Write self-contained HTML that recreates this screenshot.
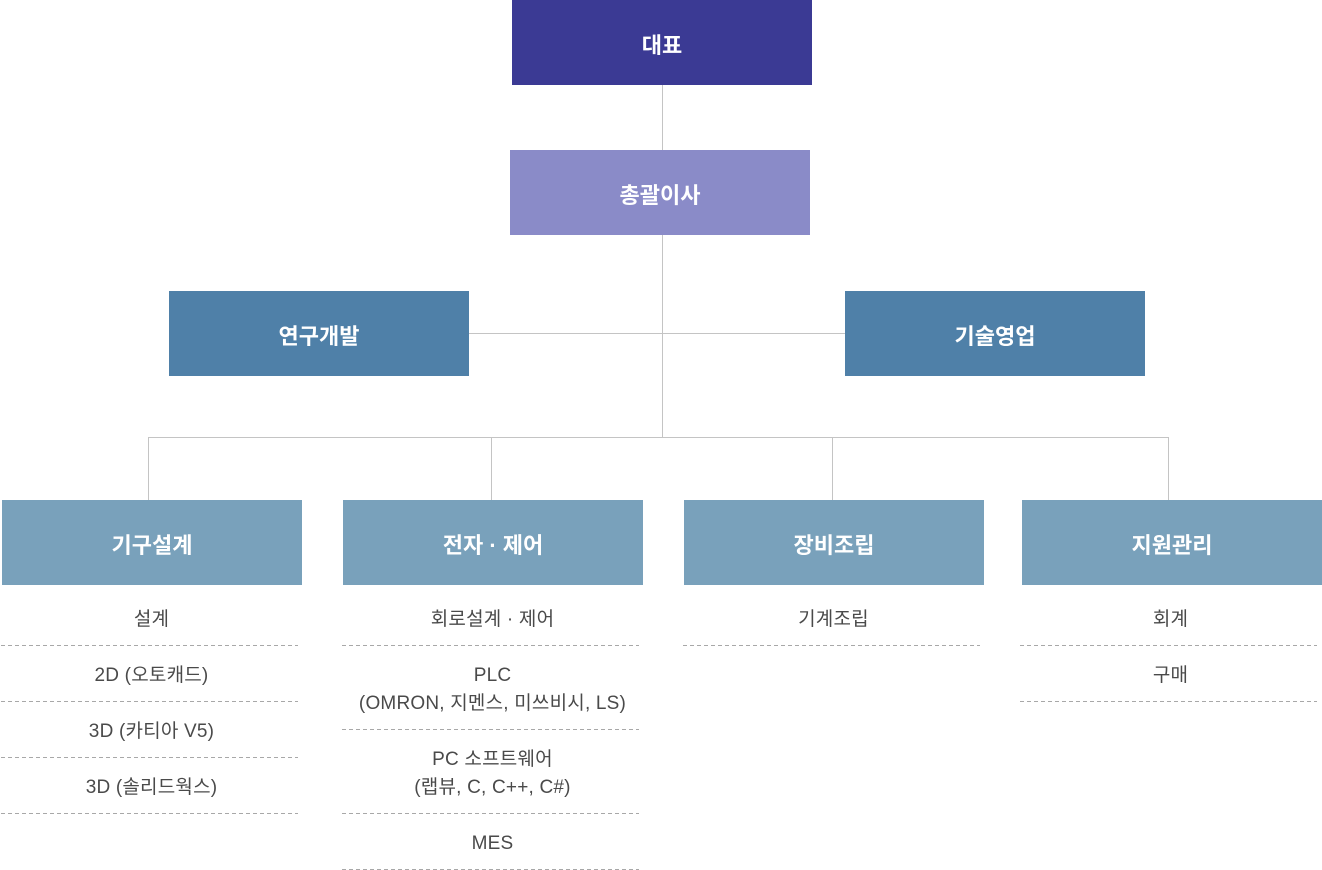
<!DOCTYPE html>
<html>
<head>
<meta charset="utf-8">
<style>
  html, body { margin:0; padding:0; background:#fff; }
  body { width:1322px; height:870px; position:relative; overflow:hidden;
         font-family:"Liberation Sans","Noto Sans CJK KR",sans-serif; }
  .box { position:absolute; width:300px; height:85px; color:#fff;
         display:flex; align-items:center; justify-content:center;
         font-size:22px; font-weight:700; letter-spacing:0; padding-top:2px; box-sizing:border-box; }
  .l { position:absolute; background:#c4c4c4; }
  .col { position:absolute; top:590px; width:297px; }
  .item { text-align:center; color:#4a4a4a; font-size:19px; line-height:28px;
          padding:16px 0 12px 4px; letter-spacing:0.2px; position:relative; }
  .item::after { content:""; position:absolute; left:0; right:0; bottom:0; height:1px;
          background:repeating-linear-gradient(90deg,#a8a8a8 0 4px,transparent 4px 7px); }
</style>
</head>
<body>
  <!-- lines -->
  <div class="l" style="left:662px;top:85px;width:1px;height:352px;"></div>
  <div class="l" style="left:469px;top:333px;width:376px;height:1px;"></div>
  <div class="l" style="left:148px;top:437px;width:1021px;height:1px;"></div>
  <div class="l" style="left:148px;top:437px;width:1px;height:63px;"></div>
  <div class="l" style="left:491px;top:437px;width:1px;height:63px;"></div>
  <div class="l" style="left:832px;top:437px;width:1px;height:63px;"></div>
  <div class="l" style="left:1168px;top:437px;width:1px;height:63px;"></div>

  <!-- boxes -->
  <div class="box" style="left:512px;top:0;background:#3b3a94;">대표</div>
  <div class="box" style="left:510px;top:150px;background:#8a8bc8;">총괄이사</div>
  <div class="box" style="left:169px;top:291px;background:#4f80a8;">연구개발</div>
  <div class="box" style="left:845px;top:291px;background:#4f80a8;">기술영업</div>
  <div class="box" style="left:2px;top:500px;background:#79a1bb;">기구설계</div>
  <div class="box" style="left:343px;top:500px;background:#79a1bb;">전자 · 제어</div>
  <div class="box" style="left:684px;top:500px;background:#79a1bb;">장비조립</div>
  <div class="box" style="left:1022px;top:500px;background:#79a1bb;">지원관리</div>

  <!-- sub lists -->
  <div class="col" style="left:1px;">
    <div class="item">설계</div>
    <div class="item">2D (오토캐드)</div>
    <div class="item">3D (카티아 V5)</div>
    <div class="item">3D (솔리드웍스)</div>
  </div>
  <div class="col" style="left:342px;">
    <div class="item">회로설계 · 제어</div>
    <div class="item">PLC<br>(OMRON, 지멘스, 미쓰비시, LS)</div>
    <div class="item">PC 소프트웨어<br>(랩뷰, C, C++, C#)</div>
    <div class="item">MES</div>
  </div>
  <div class="col" style="left:683px;">
    <div class="item">기계조립</div>
  </div>
  <div class="col" style="left:1020px;">
    <div class="item">회계</div>
    <div class="item">구매</div>
  </div>
</body>
</html>
